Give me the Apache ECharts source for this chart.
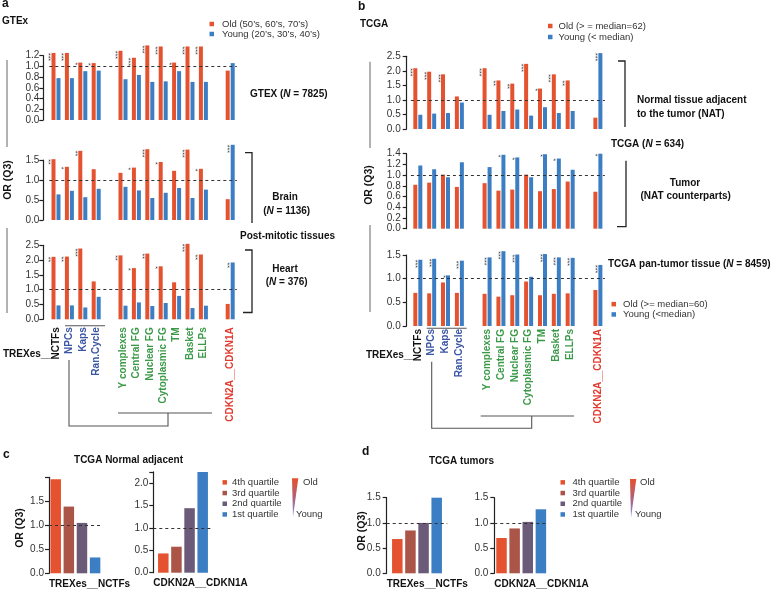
<!DOCTYPE html>
<html><head><meta charset="utf-8">
<script src="https://cdn.jsdelivr.net/npm/echarts@6/dist/echarts.min.js"></script>
<style>html,body{margin:0;padding:0;background:#fff}#c{width:778px;height:590px}</style>
</head><body><div id="c"></div>
<script>
// ---------------- data ----------------
const categories = ['NCTFs','NPCs','Kaps','Ran.Cycle','Y complexes','Central FG','Nuclear FG','Cytoplasmic FG','TM','Basket','ELLPs','CDKN2A__CDKN1A'];
const groupSizes = [4, 7, 1];

const gtexOld   = [1.25,1.25,1.07,1.06,1.29,1.16,1.39,1.37,1.07,1.37,1.37,0.92];
const gtexYoung = [0.78,0.78,0.91,0.92,0.76,0.84,0.71,0.72,0.91,0.71,0.71,1.06];
const gtexSigOld   = ['***','***','*','*','***','***','***','***','*','***','***',''];
const gtexSigYoung = ['','','','','','','','','','','',''];

const brainOld   = [1.52,1.33,1.73,1.27,1.18,1.31,1.77,1.45,1.23,1.76,1.28,0.52];
const brainYoung = [0.64,0.73,0.57,0.78,0.83,0.74,0.55,0.68,0.80,0.55,0.76,1.88];
const brainSigOld   = ['**','*','**','','','*','***','*','','***','*',''];
const brainSigYoung = ['','','','','','','','','','','','***'];

const heartOld   = [2.11,2.12,2.39,1.28,2.16,1.73,2.22,1.79,1.25,2.55,2.19,0.52];
const heartYoung = [0.47,0.47,0.40,0.76,0.46,0.57,0.45,0.55,0.79,0.38,0.46,1.92];
const heartSigOld   = ['**','**','***','','**','*','**','*','','***','**',''];
const heartSigYoung = ['','','','','','','','','','','','**'];

const natOld   = [2.09,1.97,1.88,1.12,2.09,1.67,1.56,2.24,1.39,1.88,1.67,0.39];
const natYoung = [0.49,0.53,0.55,0.91,0.49,0.62,0.67,0.46,0.75,0.55,0.62,2.61];
const natSigOld   = ['***','***','***','','***','**','**','***','*','***','**',''];
const natSigYoung = ['','','','','','','','','','','','***'];

const tumorOld   = [0.82,0.86,1.01,0.78,0.85,0.71,0.73,1.01,0.70,0.74,0.88,0.69];
const tumorYoung = [1.18,1.11,0.96,1.24,1.15,1.38,1.33,0.96,1.39,1.31,1.10,1.40];
const tumorSigOld   = ['','','','','','','','','','','',''];
const tumorSigYoung = ['','','','','','*','*','','*','*','','*'];

const panOld   = [0.70,0.69,0.92,0.70,0.68,0.62,0.65,0.94,0.65,0.68,0.69,0.76];
const panYoung = [1.40,1.42,1.07,1.38,1.45,1.58,1.51,1.04,1.52,1.45,1.44,1.29];
const panSigOld   = ['','','','','','','','','','','',''];
const panSigYoung = ['***','***','*','***','***','***','***','','***','***','***','***'];

const quartileNames = ['4th quartile','3rd quartile','2nd quartile','1st quartile'];
const cNctfs = [1.96,1.39,1.05,0.33];
const cCdkn  = [0.43,0.58,1.44,2.25];
const dNctfs = [0.68,0.85,1.00,1.50];
const dCdkn  = [0.70,0.89,1.02,1.27];
const quartileCats = ['TREXes__NCTFs','CDKN2A__CDKN1A'];
const cNctfsTicks = [0, 0.5, 1.0, 1.5];

const nameA = ['Old (50\u2019s, 60\u2019s, 70\u2019s)','Young (20\u2019s, 30\u2019s, 40\u2019s)'];
const nameB = ['Old (> = median=62)','Young (< median)'];
const nameB2 = ['Old (>= median=60)','Young (<median)'];

// ---------------- style ----------------
const FONT = '"Liberation Sans", Arial, sans-serif';
const OLD = '#e4522f', YOUNG = '#3b7ec3';
const QCOL = ['#e4522f','#ab5448','#6c5b78','#3b7ec3'];
const catColors = ['#111','#3a55a4','#3a55a4','#3a55a4','#3b9a48','#3b9a48','#3b9a48','#3b9a48','#3b9a48','#3b9a48','#3b9a48','#e23a2e'];

function withGaps(arr, fills) {
  const out = []; let k = 0;
  groupSizes.forEach((n, g) => {
    if (g > 0) out.push(fills[g - 1]);
    for (let i = 0; i < n; i++) out.push(arr[k++]);
  });
  return out;
}
const xCats = withGaps(categories.map((c, i) => ({value: c, textStyle: {color: catColors[i]}})), [' ', '  ']);

const grids = [
  {left:49.3, top:55.6, width:187.6, height:64.4},
  {left:49.3, top:160, width:187.6, height:60},
  {left:49.3, top:245.3, width:187.6, height:74},
  {left:410.9, top:56.3, width:193.9, height:72.7},
  {left:410.9, top:153.7, width:193.9, height:75},
  {left:410.9, top:255, width:193.9, height:71},
  {left:49, top:477.3, width:52.8, height:96},
  {left:153.3, top:471.9, width:59.4, height:100.8},
  {left:386.7, top:497.7, width:60.6, height:75.6},
  {left:494.3, top:497.7, width:53.8, height:75.6}
].map(g => Object.assign({containLabel:false, outerBoundsMode:'none'}, g));

const yDefs = [
  {max:1.2, interval:0.2, offset:6},
  {max:1.5, interval:0.5, offset:6},
  {max:2.5, interval:0.5, offset:6},
  {max:2.5, interval:0.5, offset:4.2, margin:6},
  {max:1.4, interval:0.2, offset:4.2, margin:6},
  {max:1.5, interval:0.5, offset:4.2, margin:6},
  {max:2, interval:0.5, offset:0, labelMax:1.5, margin:5, ownLabels:true},
  {max:2.25, interval:0.5, offset:0, labelMax:2, margin:5},
  {max:1.5, interval:0.5, offset:0, margin:6},
  {max:1.5, interval:0.5, offset:0, margin:6}
];

const yAxis = yDefs.map((d, i) => {
  const lm = d.labelMax !== undefined ? d.labelMax : d.max;
  return {
    type:'value', gridIndex:i, min:0, max:d.max, interval:d.interval, offset:d.offset,
    axisLine:{show:true, lineStyle:{color:'#222', width:1.2}},
    axisTick:{show:true, length:4, lineStyle:{color:'#222', width:1.2}},
    axisLabel:{show:!d.ownLabels, fontSize:10, color:'#333', margin:d.margin || 4, fontFamily:FONT,
      formatter: v => (v > lm + 1e-6 ? '' : v.toFixed(1))},
    splitLine:{show:false}
  };
});

const xAxis = [];
for (let i = 0; i < 6; i++) {
  const showLab = (i === 2 || i === 5);
  xAxis.push({
    type:'category', gridIndex:i, data:xCats,
    axisLine:{show:false}, axisTick:{show:false}, splitLine:{show:false},
    axisLabel:{show:showLab, rotate:90, interval:0, fontSize:10, fontWeight:'bold', fontFamily:FONT, margin: i === 2 ? 8 : 3}
  });
}
for (let i = 6; i < 10; i++) {
  const cat = quartileCats[(i - 6) % 2];
  xAxis.push({
    type:'category', gridIndex:i, data:[cat],
    axisLine:{show:false}, axisTick:{show:false}, axisLabel:{show:false}, splitLine:{show:false},
    name: cat, nameLocation:'start', nameGap:0,
    nameTextStyle:{align:'left', verticalAlign:'top', fontSize:10, fontWeight:'bold', color:'#111', fontFamily:FONT, padding:[6,0,0,0]}
  });
}

const dashLine = {silent:true, symbol:'none', label:{show:false}, lineStyle:{type:[3,3], color:'#333', width:1}, data:[{yAxis:1}]};
const sigLabel = {show:true, position:[0,0], rotate:-90, align:'left', verticalAlign:'top', fontSize:7, color:'#444', fontFamily:FONT,
  formatter: p => (p.data && p.data.sig) || ''};

const series = [];
function pair(gi, names, oldV, youngV, sigO, sigY) {
  const mk = (vals, sig) => withGaps(vals.map((v, i) => ({value:v, sig:sig[i]})), ['-','-']);
  series.push({type:'bar', name:names[0], xAxisIndex:gi, yAxisIndex:gi, data:mk(oldV, sigO), barWidth:4, barGap:'25%', clip:false,
    itemStyle:{color:OLD}, label:sigLabel, markLine:dashLine});
  series.push({type:'bar', name:names[1], xAxisIndex:gi, yAxisIndex:gi, data:mk(youngV, sigY), barWidth:4, barGap:'25%', clip:false,
    itemStyle:{color:YOUNG}, label:sigLabel});
}
pair(0, nameA, gtexOld, gtexYoung, gtexSigOld, gtexSigYoung);
pair(1, nameA, brainOld, brainYoung, brainSigOld, brainSigYoung);
pair(2, nameA, heartOld, heartYoung, heartSigOld, heartSigYoung);
pair(3, nameB, natOld, natYoung, natSigOld, natSigYoung);
pair(4, nameB, tumorOld, tumorYoung, tumorSigOld, tumorSigYoung);
pair(5, nameB2, panOld, panYoung, panSigOld, panSigYoung);

[[6, cNctfs],[7, cCdkn],[8, dNctfs],[9, dCdkn]].forEach(([gi, vals]) => {
  vals.forEach((v, q) => {
    const s = {type:'bar', name:quartileNames[q], xAxisIndex:gi, yAxisIndex:gi, data:[v], barWidth:10.5, barGap:'25%', clip:false,
      itemStyle:{color:QCOL[q]}};
    if (q === 0) s.markLine = dashLine;
    series.push(s);
  });
});

function leg(names, left, top, lh, pad) {
  return {data:names, left, top, orient:'vertical', icon:'rect', itemWidth:4.5, itemHeight:4.5, itemGap:0, selectedMode:false,
    padding:0, textStyle:{fontSize:9.5, color:'#333', fontFamily:FONT, lineHeight:lh, padding:[0,0,0,pad]}};
}
const legend = [
  leg(nameA, 209.5, 19, 10, 3),
  leg(nameB, 548, 20.5, 11, 1),
  leg(nameB2, 611.5, 299, 10.3, 2),
  leg(quartileNames, 222.5, 477, 10.7, 0),
  leg(quartileNames, 560.5, 477, 10.7, 2.5)
];

// ---------------- annotations ----------------
function T(x, y, text, o) {
  o = o || {};
  const st = {text, fill:o.color || '#111', font:o.font || ('bold 10px ' + FONT),
    textAlign:o.align || 'left', align:o.align || 'left', textVerticalAlign:'middle', verticalAlign:'middle'};
  if (o.rich) st.rich = o.rich;
  return {type:'text', x, y, rotation:o.rot || 0, silent:true, style:st};
}
const richN = {
  b:{fontSize:10, fontWeight:'bold', fontFamily:FONT, fill:'#111'},
  i:{fontSize:10, fontWeight:'bold', fontStyle:'italic', fontFamily:FONT, fill:'#111'}
};
function L(points, color, w) {
  return {type:'polyline', silent:true, shape:{points}, style:{stroke:color, lineWidth:w, fill:null}};
}
const norm = '9.5px ' + FONT;
const orFont = 'bold 10.5px ' + FONT;
const graphic = [
  T(2, 4, 'a', {font:'bold 12px ' + FONT}),
  T(358, 6.5, 'b', {font:'bold 12px ' + FONT}),
  T(3, 455, 'c', {font:'bold 12px ' + FONT}),
  T(362, 452, 'd', {font:'bold 12px ' + FONT}),
  T(2, 21, 'GTEx'),
  T(360, 24, 'TCGA'),
  T(8, 180, 'OR (Q3)', {align:'center', rot:Math.PI/2, font:orFont}),
  T(369.5, 185, 'OR (Q3)', {align:'center', rot:Math.PI/2, font:orFont}),
  T(20, 528, 'OR (Q3)', {align:'center', rot:Math.PI/2, font:orFont}),
  T(362, 531, 'OR (Q3)', {align:'center', rot:Math.PI/2, font:orFont}),
  T(3, 354, 'TREXes__'),
  T(366, 355, 'TREXes__'),
  T(250, 94, '{b|GTEX (}{i|N}{b| = 7825)}', {rich:richN}),
  T(285, 197, 'Brain', {align:'center'}),
  T(286.7, 211, '{b|(}{i|N}{b| = 1136)}', {align:'center', rich:richN}),
  T(287.5, 236, 'Post-mitotic tissues', {align:'center'}),
  T(285, 269, 'Heart', {align:'center'}),
  T(286.7, 282, '{b|(}{i|N}{b| = 376)}', {align:'center', rich:richN}),
  T(637, 100, 'Normal tissue adjacent'),
  T(637, 114, 'to the tumor (NAT)'),
  T(611, 144, '{b|TCGA (}{i|N}{b| = 634)}', {rich:richN}),
  T(685, 183, 'Tumor', {align:'center'}),
  T(685.7, 196, '(NAT counterparts)', {align:'center'}),
  T(608, 264, '{b|TCGA pan-tumor tissue (}{i|N}{b| = 8459)}', {rich:richN}),
  T(128.5, 460, 'TCGA Normal adjacent', {align:'center'}),
  T(461.5, 461.5, 'TCGA tumors', {align:'center'}),
  T(303, 482.7, 'Old', {font:norm, color:'#333'}),
  T(296, 514.3, 'Young', {font:norm, color:'#333'}),
  T(640, 482, 'Old', {font:norm, color:'#333'}),
  T(635, 514.7, 'Young', {font:norm, color:'#333'}),
  // brackets
  L([[245,152.7],[252,152.7],[252,223]], '#222', 1.3),
  L([[245,250],[252,250],[252,312.5],[243,312.5]], '#222', 1.3),
  L([[618,61],[625,61],[625,127]], '#222', 1.3),
  L([[626,160.7],[626,226.7],[617,226.7]], '#222', 1.3),
  // grey side lines
  L([[7,60],[7,147]], '#999', 1.5),
  L([[7,228],[7,313]], '#999', 1.5),
  L([[370,61.7],[370,148]], '#999', 1.5),
  L([[370,225],[370,312]], '#999', 1.5),
  // dendrograms
  L([[65,325.7],[105,325.7]], '#555', 1.1),
  L([[69,360],[69,426],[168,426],[168,413]], '#555', 1.1),
  L([[118,413],[212,413]], '#555', 1.1),
  L([[426.7,328.3],[466.7,328.3]], '#555', 1.1),
  L([[431.7,361.7],[431.7,428.3],[531.7,428.3],[531.7,416]], '#555', 1.1),
  L([[480.7,416],[574,416]], '#555', 1.1),
  // gradient wedges
  {type:'polygon', silent:true, shape:{points:[[292,478.3],[298.3,478.3],[293,517]]},
   style:{fill:{type:'linear', x:0, y:0, x2:0, y2:1, colorStops:[{offset:0,color:'#e4522f'},{offset:0.5,color:'#b0607a'},{offset:1,color:'#8090e0'}]}}},
  {type:'polygon', silent:true, shape:{points:[[630,479],[636.3,479],[631,517.7]]},
   style:{fill:{type:'linear', x:0, y:0, x2:0, y2:1, colorStops:[{offset:0,color:'#e4522f'},{offset:0.5,color:'#b0607a'},{offset:1,color:'#8090e0'}]}}}
];

const chart = echarts.init(document.getElementById('c'), null, {renderer:'canvas'});
chart.setOption({
  animation:false,
  backgroundColor:'#fff',
  textStyle:{fontFamily:FONT},
  grid:grids, xAxis, yAxis, series, legend, graphic
});

// tick labels for the TREXes__NCTFs axis, placed through the axis scale
const axisX = grids[6].left - yDefs[6].margin;
const tickTexts = cNctfsTicks.map(v => {
  const py = chart.convertToPixel({yAxisIndex:6}, v);
  return {type:'text', x:axisX, y:py, silent:true,
    style:{text:v.toFixed(1), fill:'#333', font:'10px ' + FONT, textAlign:'right', align:'right',
      textVerticalAlign:'middle', verticalAlign:'middle'}};
});
chart.setOption({graphic: graphic.concat(tickTexts)});
</script></body></html>
